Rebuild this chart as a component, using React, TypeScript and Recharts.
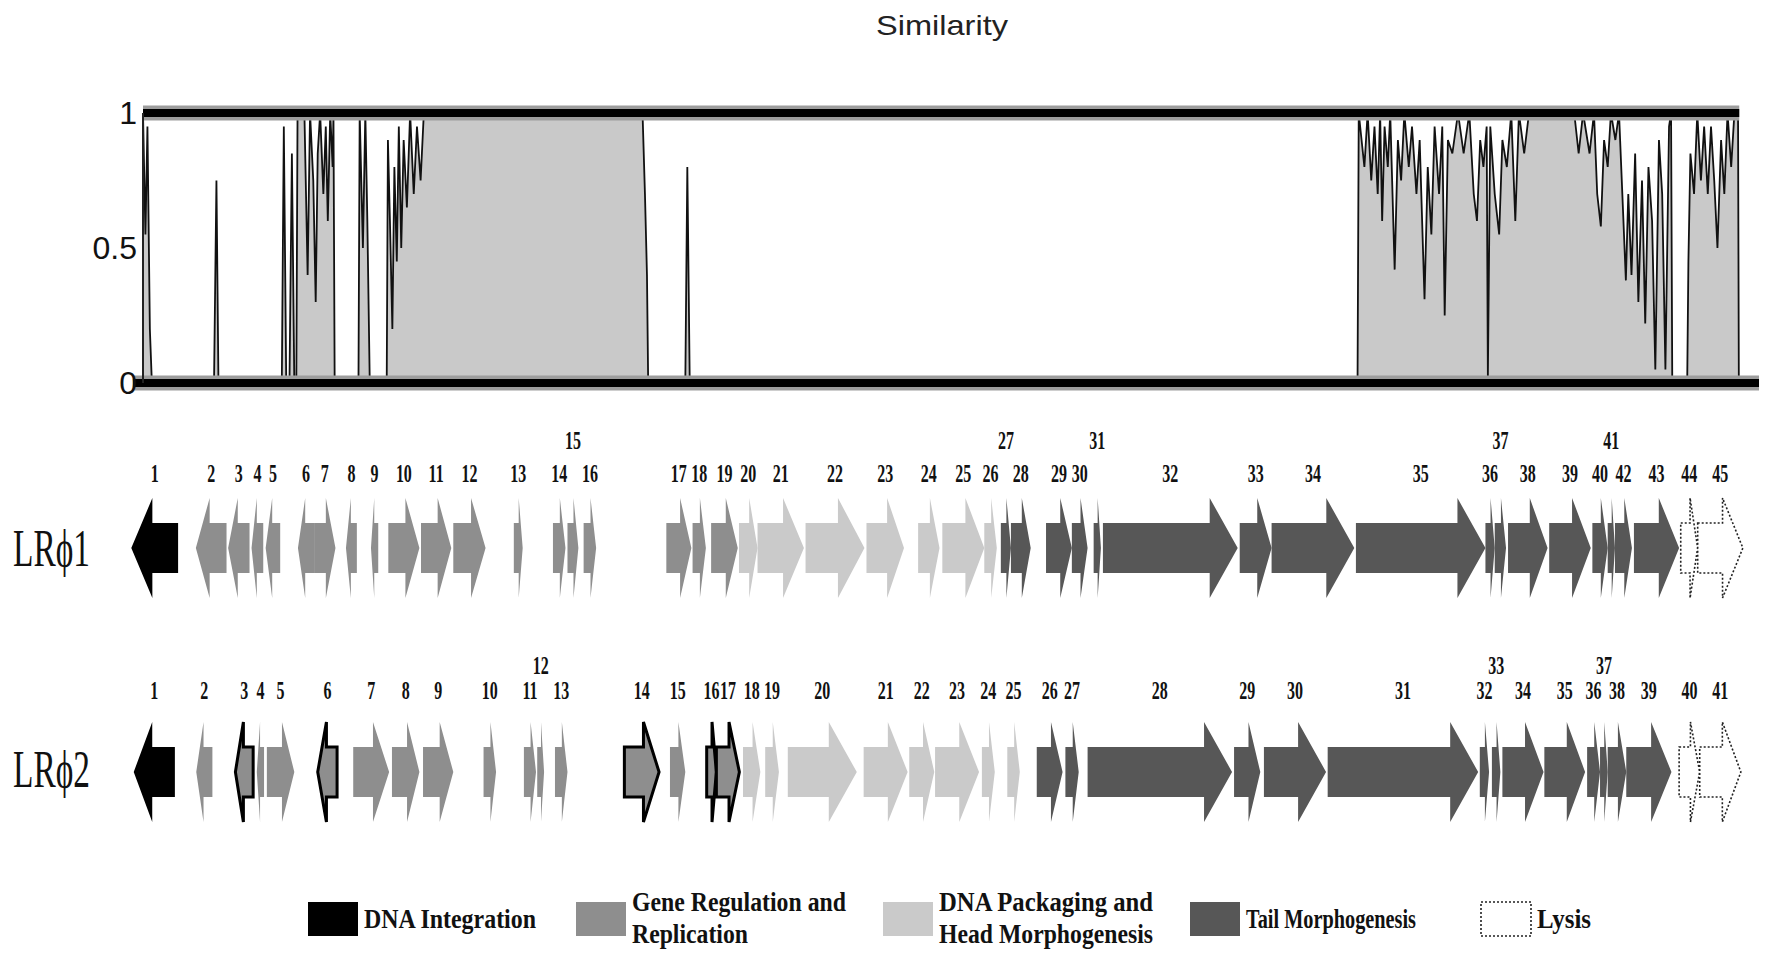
import React from 'react';
import { ComposedChart, Area, Line, XAxis, YAxis, ReferenceLine, ReferenceArea } from 'recharts';

const W = 1769;
const H = 957;
const DOMAIN: [number, number] = [0, 40];

// similarity profile: [genome position (kb), similarity]
const SIM_LEFT: [number, number][] = [
  [0.0, 1], [0.06, 0.55], [0.11, 0.95], [0.17, 0.2], [0.22, 0],
  [1.76, 0], [1.82, 0.75], [1.87, 0],
  [3.44, 0], [3.49, 0.95], [3.55, 0], [3.63, 0], [3.69, 0.85], [3.75, 0], [3.8, 0],
  [3.83, 1], [4.0, 1], [4.08, 0.4], [4.14, 1], [4.22, 0.75], [4.28, 0.3], [4.33, 0.85],
  [4.39, 1], [4.47, 0.7], [4.53, 0.95], [4.58, 0.6], [4.64, 1], [4.7, 0.8], [4.72, 1], [4.75, 0],
  [5.34, 0], [5.37, 1], [5.45, 0.5], [5.51, 1], [5.56, 0.6], [5.62, 0],
  [6.04, 0], [6.07, 0.9], [6.12, 0.6], [6.18, 0.2], [6.23, 0.8], [6.29, 0.45], [6.34, 0.95],
  [6.4, 0.5], [6.46, 0.9], [6.54, 0.65], [6.62, 1], [6.71, 0.7], [6.79, 0.95], [6.88, 0.75], [6.96, 1],
];

const SIM_CENTER: [number, number][] = [
  [12.38, 1], [12.44, 0.7], [12.49, 0.4], [12.52, 0],
  [13.44, 0], [13.49, 0.8], [13.55, 0],
  [30.1, 0],
];

const SIM_RIGHT: [number, number][] = [
  [30.13, 1], [30.27, 0.8], [30.35, 1], [30.44, 0.75], [30.52, 0.95], [30.6, 0.7], [30.66, 1],
  [30.71, 0.6], [30.77, 0.95], [30.85, 0.8], [30.91, 1], [31.02, 0.42], [31.1, 0.9], [31.18, 0.75],
  [31.26, 1], [31.37, 0.8], [31.45, 0.95], [31.56, 0.7], [31.64, 0.9], [31.76, 0.31], [31.84, 0.8],
  [31.93, 0.55], [32.01, 0.95], [32.12, 0.7], [32.2, 0.95], [32.26, 0.25], [32.34, 0.9], [32.45, 0.85],
  [32.59, 1], [32.73, 0.85], [32.87, 1], [32.98, 0.7], [33.06, 0.6], [33.14, 0.9], [33.22, 0.8],
  [33.3, 0.95], [33.33, 0.02], [33.39, 0.95], [33.5, 0.7], [33.61, 0.55], [33.69, 0.9], [33.8, 0.8],
  [33.91, 1], [34.01, 0.6], [34.1, 1], [34.23, 0.85], [34.35, 1], [35.47, 1], [35.58, 0.85],
  [35.69, 1], [35.85, 0.85], [35.96, 1], [36.04, 0.7], [36.13, 0.58], [36.21, 0.9], [36.3, 0.8],
  [36.38, 1], [36.49, 0.9], [36.58, 1], [36.69, 0.6], [36.75, 0.38], [36.81, 0.7], [36.89, 0.4],
  [36.98, 0.85], [37.06, 0.3], [37.15, 0.75], [37.23, 0.22], [37.31, 0.8], [37.4, 0.6], [37.48, 0.05],
  [37.57, 0.9], [37.65, 0.7], [37.73, 0.05], [37.82, 0.95], [37.87, 1], [37.9, 0],
  [38.27, 0], [38.3, 0.45], [38.35, 0.85], [38.44, 0.7], [38.52, 1], [38.61, 0.75], [38.69, 0.95],
  [38.78, 0.7], [38.86, 0.95], [38.94, 0.75], [39.02, 0.5], [39.11, 0.9], [39.19, 0.7], [39.27, 1],
  [39.36, 0.8], [39.44, 1], [39.53, 1], [39.55, 0], [40, 0],
];

const SIM_TICKS = [0, 0.5, 1];

// gene maps: [start kb, end kb, strand]
const LR1_GENES: [number, number, number][] = [
  [-0.29, 0.87, -1], [1.31, 2.07, -1], [2.11, 2.64, -1], [2.69, 2.98, -1], [3.04, 3.4, -1],
  [3.84, 4.24, -1], [4.24, 4.77, 1], [5.03, 5.3, -1], [5.65, 5.83, -1], [6.08, 6.85, 1],
  [6.89, 7.64, 1], [7.69, 8.49, 1], [9.19, 9.41, 1], [10.16, 10.47, 1], [10.52, 10.79, 1],
  [10.92, 11.23, 1], [12.97, 13.59, 1], [13.62, 13.95, 1], [14.08, 14.74, 1], [14.77, 15.23, 1],
  [15.23, 16.38, 1], [16.42, 17.88, 1], [17.93, 18.86, 1], [19.21, 19.74, 1], [19.81, 20.85, 1],
  [20.85, 21.16, 1], [21.26, 21.51, 1], [21.51, 22.0, 1], [22.38, 23.02, 1], [23.02, 23.41, 1],
  [23.56, 23.74, 1], [23.79, 27.13, 1], [27.18, 27.97, 1], [27.97, 30.02, 1], [30.06, 33.27, 1],
  [33.27, 33.5, 1], [33.5, 33.78, 1], [33.83, 34.81, 1], [34.85, 35.88, 1], [35.92, 36.3, 1],
  [36.3, 36.48, 1], [36.48, 36.9, 1], [36.95, 38.07, 1], [38.11, 38.53, 1], [38.53, 39.65, 1],
];
const LR1_CATS = 'IRRRRRRRRRRRRRRRRRRPPPPPPPTTTTTTTTTTTTTTTTTLL';
const LR1_UPPER = [15, 27, 31, 37, 41];

const LR2_GENES: [number, number, number][] = [
  [-0.23, 0.79, -1], [1.32, 1.72, -1], [2.29, 2.73, -1], [2.82, 3.0, -1], [3.07, 3.75, 1],
  [4.33, 4.81, -1], [5.21, 6.1, 1], [6.17, 6.85, 1], [6.94, 7.69, 1], [8.44, 8.75, 1],
  [9.44, 9.74, 1], [9.77, 9.94, 1], [10.21, 10.52, 1], [11.93, 12.79, 1], [13.06, 13.44, 1],
  [13.97, 14.21, 1], [14.21, 14.78, 1], [14.87, 15.3, 1], [15.42, 15.76, 1], [15.98, 17.69, 1],
  [17.86, 18.95, 1], [18.99, 19.61, 1], [19.63, 20.72, 1], [20.79, 21.11, 1], [21.42, 21.73, 1],
  [22.15, 22.79, 1], [22.86, 23.19, 1], [23.41, 26.99, 1], [27.04, 27.69, 1], [27.78, 29.32, 1],
  [29.36, 33.09, 1], [33.13, 33.36, 1], [33.43, 33.64, 1], [33.69, 34.71, 1], [34.73, 35.74, 1],
  [35.79, 36.11, 1], [36.11, 36.3, 1], [36.3, 36.76, 1], [36.76, 37.88, 1], [38.07, 38.58, 1],
  [38.58, 39.6, 1],
];
const LR2_CATS = 'IRRRRRRRRRRRRRRRRPPPPPPPPTTTTTTTTTTTTTTLL';
const LR2_UPPER = [12, 33, 37];
const LR2_OUTLINED = [3, 6, 14, 16, 17];

const CAT_FILL: Record<string, string> = {
  I: '#000000',
  R: '#8e8e8e',
  P: '#cacaca',
  T: '#575757',
  L: '#ffffff',
};

const LEGEND_ITEMS = [
  { cat: 'I', lines: ['DNA Integration'] },
  { cat: 'R', lines: ['Gene Regulation and', 'Replication'] },
  { cat: 'P', lines: ['DNA Packaging and', 'Head Morphogenesis'] },
  { cat: 'T', lines: ['Tail Morphogenesis'] },
  { cat: 'L', lines: ['Lysis'] },
];

const SERIF = '"Liberation Serif", "Times New Roman", serif';
const SANS = '"Liberation Sans", Arial, sans-serif';

const simData = [...SIM_LEFT, ...SIM_CENTER, ...SIM_RIGHT].map(([pos, sim]) => ({ pos, sim }));

const SimTick = (props: any) => {
  const { x, y, payload } = props;
  return (
    <text x={x + 2} y={y} textAnchor="end" dominantBaseline="central" fontFamily={SANS} fontSize={32} fill="#111">
      {payload.value}
    </text>
  );
};

const SimilarityChart = () => (
  <div style={{ position: 'absolute', left: 0, top: 0 }}>
    <ComposedChart width={W} height={420} data={simData} margin={{ top: 113, right: 12, bottom: 37, left: 83 }}>
      <XAxis type="number" dataKey="pos" domain={DOMAIN} hide allowDataOverflow />
      <YAxis
        type="number"
        domain={[0, 1]}
        ticks={SIM_TICKS}
        interval={0}
        width={60}
        tickLine={false}
        axisLine={{ stroke: '#222', strokeWidth: 2 }}
        tick={<SimTick />}
      />
      <Area
        type="linear"
        dataKey="sim"
        stroke="#111"
        strokeWidth={1.8}
        fill="#c9c9c9"
        fillOpacity={1}
        dot={false}
        activeDot={false}
        isAnimationActive={false}
      />
      <ReferenceLine segment={[{ x: 0, y: 1 }, { x: 39.56, y: 1 }]} stroke="#9d9d9d" strokeWidth={15} ifOverflow="visible" />
      <ReferenceLine segment={[{ x: 0, y: 1 }, { x: 39.56, y: 1 }]} stroke="#000" strokeWidth={8} ifOverflow="visible" />
      <ReferenceLine segment={[{ x: -0.25, y: 0 }, { x: 40.05, y: 0 }]} stroke="#9d9d9d" strokeWidth={15} ifOverflow="visible" />
      <ReferenceLine segment={[{ x: -0.25, y: 0 }, { x: 40.05, y: 0 }]} stroke="#000" strokeWidth={8} ifOverflow="visible" />
    </ComposedChart>
  </div>
);

const GeneArrow = (props: any) => {
  const { x, y, width, height, strand, cat, label, upper, outlined, labelOff, upperOff } = props;
  if (x == null || width == null) return <g />;
  const headLen = Math.min(width * 0.45, 28);
  const bt = y + height * 0.25;
  const bb = y + height * 0.75;
  const mid = y + height / 2;
  let pts: number[][];
  if (strand > 0) {
    const hb = x + width - headLen;
    pts = [[x, bt], [hb, bt], [hb, y], [x + width, mid], [hb, y + height], [hb, bb], [x, bb]];
  } else {
    const hb = x + headLen;
    pts = [[x + width, bt], [hb, bt], [hb, y], [x, mid], [hb, y + height], [hb, bb], [x + width, bb]];
  }
  const lysis = cat === 'L';
  return (
    <g>
      <polygon
        points={pts.map((p) => p.join(',')).join(' ')}
        fill={CAT_FILL[cat]}
        stroke={lysis ? '#222' : outlined ? '#000' : 'none'}
        strokeWidth={lysis ? 1.6 : outlined ? 3 : 0}
        strokeDasharray={lysis ? '2 2' : undefined}
      />
      <text
        transform={`translate(${x + width / 2},${y + (upper ? upperOff : labelOff)}) scale(1,1.6)`}
        textAnchor="middle"
        fontFamily={SERIF}
        fontWeight="bold"
        fontSize={16}
        fill="#111"
      >
        {label}
      </text>
    </g>
  );
};

const GeneMap = ({ genes, cats, upper, outlined, top, mTop, mBottom, labelOff, upperOff }: any) => {
  const data = genes.map(([s, e]: number[], i: number) => ({ mid: (s + e) / 2, n: i + 1, zero: 0 }));
  return (
    <div style={{ position: 'absolute', left: 0, top }}>
      <ComposedChart width={W} height={200} data={data} margin={{ top: mTop, right: 12, bottom: mBottom, left: 143 }}>
        <XAxis type="number" dataKey="mid" domain={DOMAIN} hide allowDataOverflow />
        <YAxis type="number" domain={[-1, 1]} hide allowDataOverflow />
        <Line dataKey="zero" stroke="none" dot={false} activeDot={false} isAnimationActive={false} />
        {genes.map(([s, e, strand]: number[], i: number) => (
          <ReferenceArea
            key={i}
            x1={s}
            x2={e}
            y1={-1}
            y2={1}
            ifOverflow="visible"
            shape={(p: any) => (
              <GeneArrow
                {...p}
                strand={strand}
                cat={cats[i]}
                label={i + 1}
                upper={upper.includes(i + 1)}
                outlined={outlined.includes(i + 1)}
                labelOff={labelOff}
                upperOff={upperOff}
              />
            )}
          />
        ))}
      </ComposedChart>
    </div>
  );
};

const LEGEND_X = [308, 576, 883, 1190, 1481];
const LEGEND_W = [172, 214, 214, 170, 54];

const Overlay = () => (
  <svg width={W} height={H} style={{ position: 'absolute', left: 0, top: 0, pointerEvents: 'none' }}>
    <text x={942} y={35} textAnchor="middle" fontFamily={SANS} fontSize={28} fill="#222" textLength={132} lengthAdjust="spacingAndGlyphs">
      Similarity
    </text>
    <text transform="translate(13,566) scale(1,1.6)" fontFamily={SERIF} fontSize={33} fill="#111" textLength={77} lengthAdjust="spacingAndGlyphs">
      LRϕ1
    </text>
    <text transform="translate(13,787) scale(1,1.6)" fontFamily={SERIF} fontSize={33} fill="#111" textLength={77} lengthAdjust="spacingAndGlyphs">
      LRϕ2
    </text>
    {LEGEND_ITEMS.map((item, i) => {
      const bx = LEGEND_X[i];
      const lysis = item.cat === 'L';
      return (
        <g key={item.cat}>
          <rect
            x={bx}
            y={902}
            width={50}
            height={34}
            fill={CAT_FILL[item.cat]}
            stroke={lysis ? '#222' : 'none'}
            strokeWidth={lysis ? 1.6 : 0}
            strokeDasharray={lysis ? '2 2' : undefined}
          />
          {item.lines.map((line, j) => {
            const cy = item.lines.length === 1 ? 919 : 902 + j * 32;
            return (
              <text
                key={j}
                transform={`translate(${bx + 56},${cy + 9}) scale(1,1.35)`}
                fontFamily={SERIF}
                fontWeight="bold"
                fontSize={21}
                fill="#111"
                textLength={j === 0 ? LEGEND_W[i] : i === 1 ? 116 : LEGEND_W[i]}
                lengthAdjust="spacingAndGlyphs"
              >
                {line}
              </text>
            );
          })}
        </g>
      );
    })}
  </svg>
);

export default function App() {
  return (
    <div style={{ position: 'absolute', left: 0, top: 0, width: W, height: H, background: '#fff', overflow: 'hidden' }}>
      <SimilarityChart />
      <GeneMap
        genes={LR1_GENES}
        cats={LR1_CATS}
        upper={LR1_UPPER}
        outlined={[]}
        top={420}
        mTop={78}
        mBottom={22}
        labelOff={-16}
        upperOff={-49}
      />
      <GeneMap
        genes={LR2_GENES}
        cats={LR2_CATS}
        upper={LR2_UPPER}
        outlined={LR2_OUTLINED}
        top={640}
        mTop={82}
        mBottom={18}
        labelOff={-23}
        upperOff={-48}
      />
      <Overlay />
    </div>
  );
}
